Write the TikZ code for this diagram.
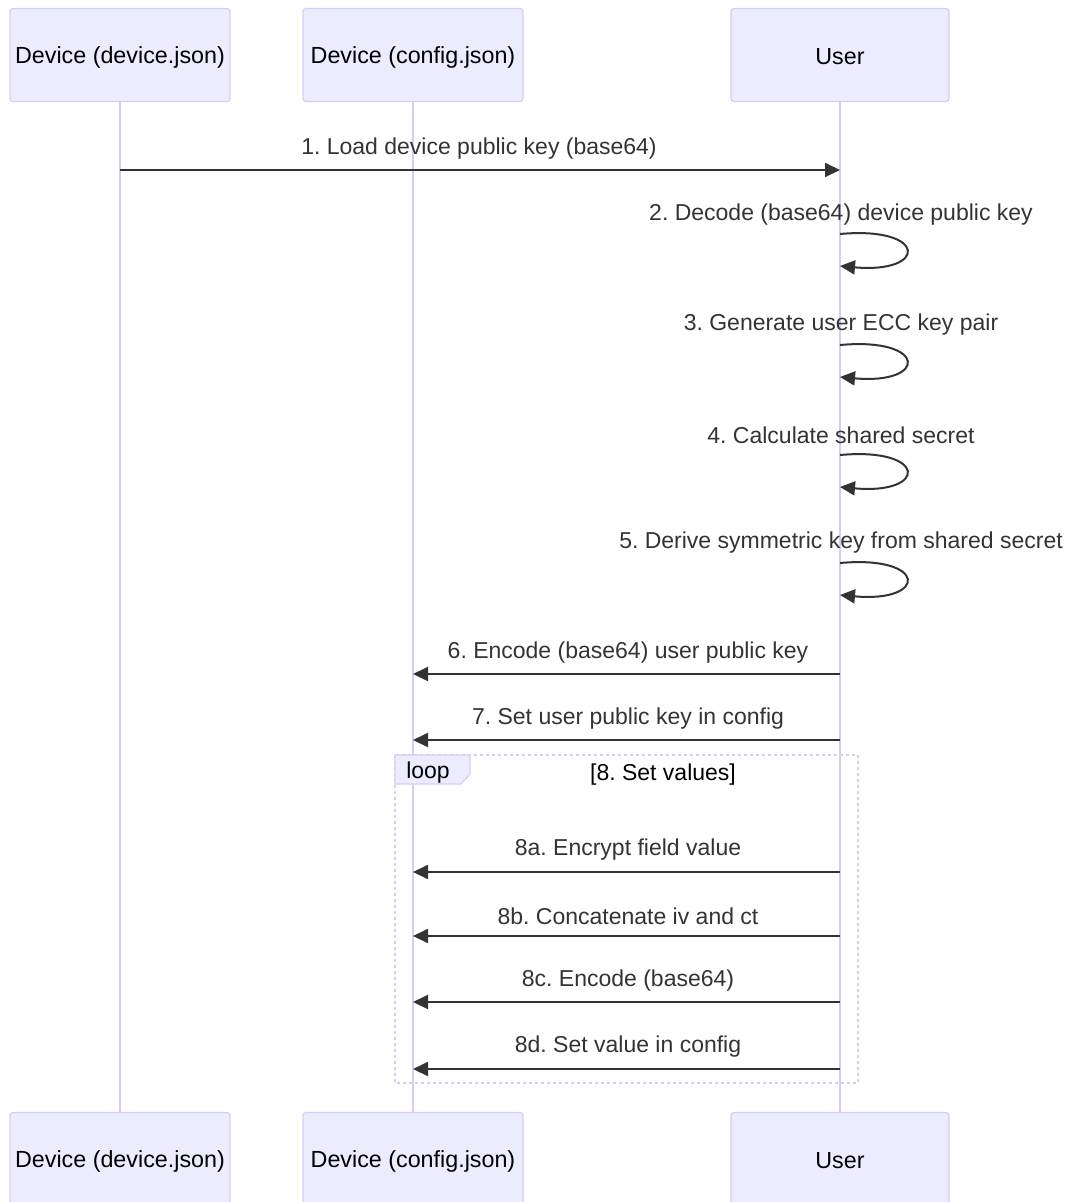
\documentclass[tikz,border=0pt]{standalone}
\usepackage{fontspec}
\setmainfont{Liberation Sans}
\usetikzlibrary{arrows.meta}
\definecolor{actfill}{HTML}{ECECFF}
\definecolor{actline}{HTML}{D7CCF5}
\definecolor{msg}{HTML}{333333}
\frenchspacing
\begin{document}
\begin{tikzpicture}[x=1pt,y=-1pt,
  actor/.style={draw=actline,fill=actfill,line width=1.2pt,rounded corners=3pt,minimum width=220pt,minimum height=93pt,inner sep=0pt},
  acttext/.style={font=\fontsize{23.3}{27}\selectfont,text=black,inner sep=0pt},
  life/.style={draw=actline,line width=2pt},
  msgline/.style={draw=msg,line width=2pt,-{Triangle[length=15pt,width=14pt]}},
  lbl/.style={font=\fontsize{23}{27}\selectfont,text=msg,inner sep=0pt},
  loopbox/.style={draw=actline,line width=2.2pt,dash pattern=on 3pt off 3pt}
]
\useasboundingbox (0,0) rectangle (1071,1202);
% lifelines
\coordinate (l1t) at (120,102); \coordinate (l1b) at (120,1112);
\coordinate (l2t) at (413,102); \coordinate (l2b) at (413,1112);
\coordinate (l3t) at (840,102); \coordinate (l3b) at (840,1112);
\draw[life] (l1t) -- (l1b);
\draw[life] (l2t) -- (l2b);
\draw[life] (l3t) -- (l3b);
% actors
\node[actor] (a1) at (120,55) {};
\node[actor] (a2) at (413,55) {};
\node[actor,minimum width=218pt] (a3) at (840,55) {};
\node[actor] (b1) at (120,1159) {};
\node[actor] (b2) at (413,1159) {};
\node[actor,minimum width=218pt] (b3) at (840,1159) {};
\node[acttext] (a1t) at (120,57) {Device (device.json)};
\node[acttext] (a2t) at (413,57) {Device (config.json)};
\node[acttext] (a3t) at (840,57) {User};
\node[acttext] (b1t) at (120,1161) {Device (device.json)};
\node[acttext] (b2t) at (413,1161) {Device (config.json)};
\node[acttext] (b3t) at (840,1161) {User};
% message 1
\coordinate (m1s) at (120,170); \coordinate (m1e) at (840,170);
\draw[msgline] (m1s) -- (m1e);
\node[lbl] (t1) at (479,149) {1. Load device public key (base64)};
% self loops
\foreach \n/\ty/\ly/\txt in {2/215/234/{2. Decode (base64) device public key},
                             3/325/345/{3. Generate user ECC key pair},
                             4/435/455/{4. Calculate shared secret},
                             5/543/563/{5. Derive symmetric key from shared secret}}{
  \node[lbl] (t\n) at (841,\ty) {\txt};
  \coordinate (s\n a) at (840,\ly);
  \coordinate (s\n b) at (840,\ly+32);
  \draw[msgline] (s\n a) .. controls +(88,-8) and +(88,8) .. (s\n b);
}
% left messages
\foreach \n/\ty/\ay/\txt in {6/653/674/{6. Encode (base64) user public key},
                             7/719/740/{7. Set user public key in config},
                             8a/850/872/{8a. Encrypt field value},
                             8b/916/936/{8b. Concatenate iv and ct},
                             8c/981/1002/{8c. Encode (base64)},
                             8d/1047/1069/{8d. Set value in config}}{
  \node[lbl] (t\n) at (628,\ty) {\txt};
  \coordinate (m\n s) at (840,\ay);
  \coordinate (m\n e) at (413,\ay);
  \draw[msgline] (m\n s) -- (m\n e);
}
% loop frame
\coordinate (lf1) at (395,755); \coordinate (lf2) at (858,1083);
\draw[loopbox] (lf1) rectangle (lf2);
\draw[fill=actfill,draw=actline,line width=1.2pt] (395,755) -- (470,755) -- (470,774) -- (461,784) -- (395,784) -- cycle;
\node[font=\fontsize{23}{27}\selectfont,text=black,inner sep=0pt] (looplbl) at (428,773) {loop};
\node[font=\fontsize{23}{27}\selectfont,text=black,inner sep=0pt] (loopcond) at (663,775) {[8. Set values]};
\end{tikzpicture}
\end{document}
